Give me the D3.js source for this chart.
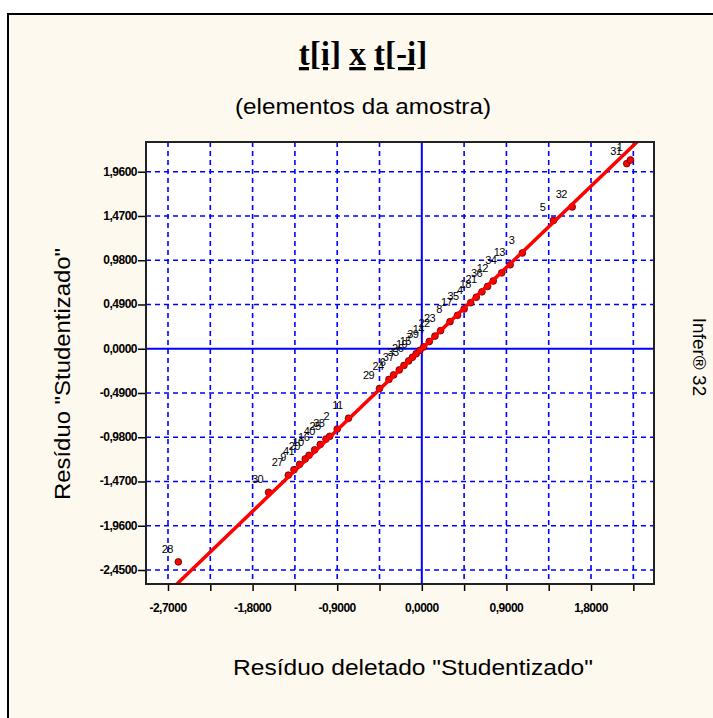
<!DOCTYPE html>
<html>
<head>
<meta charset="utf-8">
<script src="https://cdn.jsdelivr.net/npm/d3@7"></script>
<style>
  body { margin: 0; background: #fff; }
  text { font-family: "Liberation Sans", Arial, sans-serif; }
</style>
</head>
<body>
<div id="chart"></div>
<script>
// residuo deletado studentizado (x), residuo studentizado (y), elemento
const tDeleted = [-2.59, -1.63, -1.42, -1.36, -1.30, -1.24, -1.20, -1.14, -1.08, -1.02,
                  -0.98, -0.90, -0.78, -0.45, -0.35, -0.30, -0.24, -0.19, -0.14, -0.10,
                  -0.06, -0.02, 0.02, 0.08, 0.14, 0.20, 0.30, 0.38, 0.45, 0.52,
                  0.58, 0.64, 0.70, 0.76, 0.85, 0.94, 1.07, 1.40, 1.60, 2.18, 2.22];
const tStud    = [-2.36, -1.59, -1.40, -1.34, -1.28, -1.22, -1.18, -1.12, -1.06, -1.00,
                  -0.97, -0.89, -0.77, -0.44, -0.34, -0.29, -0.235, -0.185, -0.135, -0.095,
                  -0.055, -0.018, 0.02, 0.08, 0.14, 0.20, 0.30, 0.37, 0.44, 0.51,
                  0.57, 0.63, 0.69, 0.75, 0.84, 0.93, 1.06, 1.42, 1.57, 2.05, 2.09];
const ids      = ["28", "30", "27", "9", "41", "20", "10", "16", "40", "25",
                  "38", "2", "11", "29", "24", "6", "37", "33", "26", "19",
                  "15", "7", "39", "14", "22", "23", "8", "17", "35", "4",
                  "18", "21", "36", "12", "34", "13", "3", "5", "32", "31", "1"];

const xGrid = [-2.7, -2.25, -1.8, -1.35, -0.9, -0.45, 0, 0.45, 0.9, 1.35, 1.8, 2.25];
const xTickVals = [-2.7, -1.8, -0.9, 0, 0.9, 1.8];
const xTickLabels = ["-2,7000", "-1,8000", "-0,9000", "0,0000", "0,9000", "1,8000"];
const yTickVals = [1.96, 1.47, 0.98, 0.49, 0, -0.49, -0.98, -1.47, -1.96, -2.45];
const yTickLabels = ["1,9600", "1,4700", "0,9800", "0,4900", "0,0000",
                     "-0,4900", "-0,9800", "-1,4700", "-1,9600", "-2,4500"];

const w = 713, h = 718;
const pL = 146, pR = 654, pT = 142, pB = 584;

const svg = d3.select("#chart").append("svg")
  .attr("width", w).attr("height", h);

// fundo creme com borda
svg.append("rect")
  .attr("x", 8).attr("y", 14).attr("width", 740).attr("height", 740)
  .attr("fill", "#fef9ee").attr("stroke", "#000").attr("stroke-width", 2);

const xScale = d3.scaleLinear().domain([-2.934, 2.470]).range([pL, pR]);
const yScale = d3.scaleLinear().domain([-2.605, 2.289]).range([pB, pT]);

svg.append("defs").append("clipPath").attr("id", "plotclip")
  .append("rect").attr("x", pL).attr("y", pT)
  .attr("width", pR - pL).attr("height", pB - pT);

svg.append("rect")
  .attr("x", pL).attr("y", pT).attr("width", pR - pL).attr("height", pB - pT)
  .attr("fill", "#fff");

const plot = svg.append("g").attr("clip-path", "url(#plotclip)");

// grade
plot.selectAll(".vgrid").data(xGrid).enter().append("line")
  .attr("x1", d => xScale(d)).attr("x2", d => xScale(d))
  .attr("y1", pT).attr("y2", pB)
  .attr("stroke", "#0000ff")
  .attr("stroke-width", d => d === 0 ? 2 : 1.6)
  .attr("stroke-dasharray", d => d === 0 ? null : "5,4");
plot.selectAll(".hgrid").data(yTickVals).enter().append("line")
  .attr("y1", d => yScale(d)).attr("y2", d => yScale(d))
  .attr("x1", pL).attr("x2", pR)
  .attr("stroke", "#0000ff")
  .attr("stroke-width", d => d === 0 ? 2 : 1.6)
  .attr("stroke-dasharray", d => d === 0 ? null : "5,4");

const pts = tDeleted.map((x, i) => ({x: x, y: tStud[i], id: ids[i]}));

// rotulos dos elementos
plot.selectAll(".lbl").data(pts).enter().append("text")
  .attr("x", d => xScale(d.x) - 11)
  .attr("y", d => yScale(d.y) - 9)
  .attr("text-anchor", "middle")
  .attr("font-size", 11)
  .attr("letter-spacing", -0.6)
  .attr("fill", "#000")
  .text(d => d.id);

plot.selectAll(".pt").data(pts).enter().append("circle")
  .attr("cx", d => xScale(d.x)).attr("cy", d => yScale(d.y))
  .attr("r", 3.4)
  .attr("fill", "#ff0000").attr("stroke", "#300").attr("stroke-width", 0.7);

// reta y = x
const lineGen = d3.line().x(d => xScale(d)).y(d => yScale(d));
plot.append("path")
  .attr("d", lineGen([-2.934, 2.47]))
  .attr("fill", "none").attr("stroke", "#ff0000").attr("stroke-width", 3.5);

// moldura
svg.append("rect")
  .attr("x", pL).attr("y", pT).attr("width", pR - pL).attr("height", pB - pT)
  .attr("fill", "none").attr("stroke", "#222").attr("stroke-width", 2);

// eixos
const xAxis = d3.axisBottom(xScale).tickValues(xGrid).tickSize(6).tickFormat("");
svg.append("g").attr("transform", "translate(0," + (pB + 1) + ")")
  .call(xAxis).call(g => g.select(".domain").remove())
  .call(g => g.selectAll("line").attr("stroke", "#000").attr("stroke-width", 1.5));
const yAxis = d3.axisLeft(yScale).tickValues(yTickVals).tickSize(7).tickFormat("");
svg.append("g").attr("transform", "translate(" + (pL - 1) + ",0)")
  .call(yAxis).call(g => g.select(".domain").remove())
  .call(g => g.selectAll("line").attr("stroke", "#000").attr("stroke-width", 1.5));

svg.selectAll(".xtl").data(xTickVals).enter().append("text")
  .attr("x", d => xScale(d)).attr("y", 612)
  .attr("text-anchor", "middle").attr("font-size", 12).attr("font-weight", "bold")
  .attr("letter-spacing", -0.5)
  .text((d, i) => xTickLabels[i]);
svg.selectAll(".ytl").data(yTickVals).enter().append("text")
  .attr("x", 137).attr("y", d => yScale(d) + 4)
  .attr("text-anchor", "end").attr("font-size", 12).attr("font-weight", "bold")
  .attr("letter-spacing", -0.5)
  .text((d, i) => yTickLabels[i]);

// titulos
const title = svg.append("text")
  .attr("x", 363).attr("y", 65).attr("text-anchor", "middle")
  .style("font-family", "'Liberation Serif', 'Times New Roman', serif")
  .attr("font-size", 33).attr("font-weight", "bold");
title.append("tspan").style("text-decoration", "underline").text("t[i]");
title.append("tspan").text(" ");
title.append("tspan").style("text-decoration", "underline").text("x");
title.append("tspan").text(" ");
title.append("tspan").style("text-decoration", "underline").text("t[-i]");

svg.append("text").attr("x", 363).attr("y", 114).attr("text-anchor", "middle")
  .attr("font-size", 22).attr("textLength", 256).attr("lengthAdjust", "spacingAndGlyphs")
  .text("(elementos da amostra)");

svg.append("text").attr("x", 413).attr("y", 675).attr("text-anchor", "middle")
  .attr("font-size", 22).attr("textLength", 360).attr("lengthAdjust", "spacingAndGlyphs")
  .text("Resíduo deletado \"Studentizado\"");

svg.append("text")
  .attr("transform", "translate(70,374) rotate(-90)")
  .attr("text-anchor", "middle").attr("font-size", 22)
  .attr("textLength", 252).attr("lengthAdjust", "spacingAndGlyphs")
  .text("Resíduo \"Studentizado\"");

svg.append("text")
  .attr("transform", "translate(693,357) rotate(90)")
  .attr("text-anchor", "middle").attr("font-size", 19)
  .text("Infer® 32");
</script>
</body>
</html>
